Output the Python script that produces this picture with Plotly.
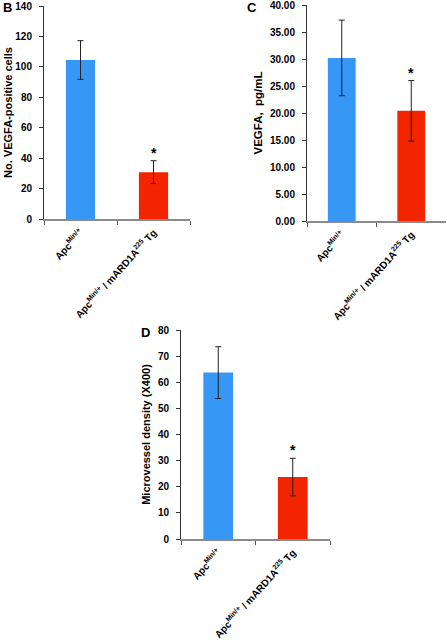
import plotly.graph_objects as go

categories = ["Apc<sup>Min/+</sup>", "Apc<sup>Min/+</sup> / mARD1A<sup>225</sup> Tg"]

b_values = [104.5, 30.8]
b_errors = [12.7, 7.5]

c_values = [30.2, 20.4]
c_errors = [7.0, 5.6]

d_values = [63.7, 23.7]
d_errors = [9.9, 7.2]

bar_colors = ["#3797F5", "#F22500"]

W, H = 447, 643
FONT = "Arial, Liberation Sans, sans-serif"

fig = go.Figure()

panels = [
    ("", b_values, b_errors, "No. VEGFA-positive cells", 140, 20, "d", (44, 190), (6, 219), 0, 11),
    ("2", c_values, c_errors, "VEGFA,  pg/mL", 40, 5, ".2f", (307, 446), (5, 221), 4, 11.5),
    ("3", d_values, d_errors, "Microvessel density (X400)", 80, 10, "d", (181, 330), (330, 539), 5, 11),
]

for key, vals, errs, ytitle, ymax, dtick, fmt, (x0, x1), (yt, yb), tstand, tsize in panels:
    fig.add_trace(go.Bar(
        x=categories, y=vals,
        marker=dict(color=bar_colors, line=dict(width=0)),
        width=0.4,
        error_y=dict(type="data", array=errs, visible=True, color="#222222",
                     thickness=1, width=3),
        xaxis="x" + key, yaxis="y" + key, showlegend=False, hoverinfo="skip",
    ))
    fig.update_layout(**{
        "xaxis" + key: dict(
            domain=[x0 / W, x1 / W], anchor="y" + key, type="category", automargin=False,
            range=[-0.5, 1.5], tickangle=-48, ticks="outside", tickson="boundaries",
            ticklen=4, tickcolor="#555", showline=True, linecolor="#8a8a8a", linewidth=1.5,
            showgrid=False, ticklabeloverflow="allow", ticklabelstandoff=2,
            tickfont=dict(family=FONT, size=10, color="black", weight="bold"),
        ),
        "yaxis" + key: dict(
            domain=[1 - yb / H, 1 - yt / H], anchor="x" + key, range=[0, ymax], automargin=False,
            dtick=dtick, tickformat=fmt, ticks="outside", ticklen=4, tickcolor="#333",
            showline=True, linecolor="#333", linewidth=1, showgrid=False, zeroline=False,
            ticklabeloverflow="allow", ticklabelstandoff=5,
            tickfont=dict(family=FONT, size=10, color="black", weight="bold"),
            title=dict(text=ytitle, font=dict(family=FONT, size=tsize, color="black", weight="bold"),
                       standoff=tstand),
        ),
    })
    fig.add_annotation(
        x=categories[1], y=vals[1] + errs[1], xref="x" + key, yref="y" + key,
        text="*", showarrow=False, yanchor="bottom", yshift=-2,
        font=dict(family=FONT, size=14, color="black", weight="bold"),
    )

for letter, px, py in [("B", 7, 8), ("C", 252, 8), ("D", 145, 332)]:
    fig.add_annotation(
        x=px / W, y=1 - py / H, xref="paper", yref="paper", text=letter,
        showarrow=False, xanchor="center", yanchor="middle",
        font=dict(family=FONT, size=13, color="black", weight="bold"),
    )

fig.update_layout(
    width=W, height=H, margin=dict(l=0, r=0, t=0, b=0),
    paper_bgcolor="white", plot_bgcolor="white", bargap=0.6,
)

fig.write_html("out.html", config={"displayModeBar": False},
               post_script="document.body.style.margin='0';document.body.style.overflow='hidden';")
